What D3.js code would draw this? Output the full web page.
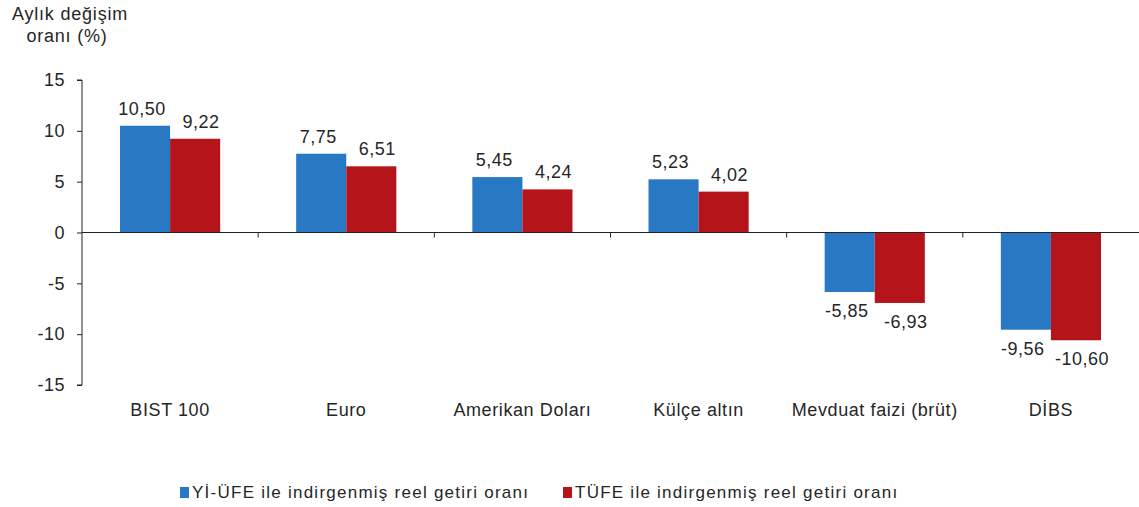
<!DOCTYPE html>
<html>
<head>
<meta charset="utf-8">
<title></title>
<script src="https://cdnjs.cloudflare.com/ajax/libs/d3/7.8.5/d3.min.js"></script>
<style>
    html, body { margin: 0; padding: 0; background: #fff; }
    svg text { font-family: "Liberation Sans", Arial, sans-serif; fill: #262626; }
</style>
</head>
<body>
<div id="vis"></div>
<script>
    // data
    var categories = ["BIST 100", "Euro", "Amerikan Doları", "Külçe altın", "Mevduat faizi (brüt)", "DİBS"];
    var seriesNames = ["Yİ-ÜFE ile indirgenmiş reel getiri oranı", "TÜFE ile indirgenmiş reel getiri oranı"];
    var yiufe = [10.50, 7.75, 5.45, 5.23, -5.85, -9.56];
    var tufe = [9.22, 6.51, 4.24, 4.02, -6.93, -10.60];
    var yTicks = [15, 10, 5, 0, -5, -10, -15];
    var colors = ["#2878c4", "#b5141b"];

    var width = 1139, height = 507;
    var svg = d3.select("#vis").append("svg")
        .attr("width", width)
        .attr("height", height);

    var x0 = d3.scaleBand().domain(categories).range([82, 1139]).paddingInner(0).paddingOuter(0);
    var x1 = d3.scaleBand().domain([0, 1]).range([38, x0.bandwidth() - 38]);
    var y = d3.scaleLinear().domain([-15, 15]).range([385, 80]);

    // title
    svg.append("text").attr("x", 70).attr("y", 20).attr("text-anchor", "middle")
        .style("font-size", "18px").style("letter-spacing", "0.8px").text("Aylık değişim");
    svg.append("text").attr("x", 67).attr("y", 42).attr("text-anchor", "middle")
        .style("font-size", "18px").style("letter-spacing", "0.8px").text("oranı (%)");

    // y axis
    var yAxis = d3.axisLeft(y).tickValues(yTicks).tickSize(5).tickPadding(12)
        .tickFormat(function(d) { return d < 0 ? "-" + Math.abs(d) : d; });
    var gy = svg.append("g").attr("transform", "translate(82,0)").call(yAxis);
    gy.select(".domain").attr("stroke", "#222").attr("d", "M-5," + y(15) + "H0V" + y(-15) + "H-5");
    gy.selectAll(".tick line").attr("stroke", "#222");
    gy.selectAll(".tick text").style("font-size", "18px").style("letter-spacing", "0.5px")
        .attr("fill", "#262626").attr("font-family", null);

    // bars
    var rows = categories.map(function(c, i) { return { cat: c, vals: [yiufe[i], tufe[i]] }; });
    var groups = svg.selectAll("g.cat").data(rows).enter().append("g")
        .attr("class", "cat")
        .attr("transform", function(d) { return "translate(" + x0(d.cat) + ",0)"; });

    groups.selectAll("rect").data(function(d) { return d.vals; }).enter().append("rect")
        .attr("x", function(d, i) { return x1(i); })
        .attr("width", x1.bandwidth())
        .attr("y", function(d) { return d >= 0 ? y(d) : y(0); })
        .attr("height", function(d) { return Math.abs(y(d) - y(0)); })
        .attr("fill", function(d, i) { return colors[i]; });

    var fmt = function(v) { return d3.format(".2f")(v).replace(".", ",").replace("\u2212", "-"); };
    groups.selectAll("text.val").data(function(d) { return d.vals; }).enter().append("text")
        .attr("class", "val")
        .attr("x", function(d, i) { return x1(i) + x1.bandwidth() / 2 + (i === 1 ? 6 : -3); })
        .attr("y", function(d) { return d >= 0 ? y(d) - 11 : y(d) + 25; })
        .attr("text-anchor", "middle")
        .style("font-size", "18px")
        .style("letter-spacing", "0.5px")
        .text(function(d) { return fmt(d); });

    // zero line + category ticks
    svg.append("line").attr("x1", 82).attr("x2", 1139).attr("y1", y(0)).attr("y2", y(0))
        .attr("stroke", "#222").attr("stroke-width", 1.2);
    svg.selectAll("line.ctick").data(categories.slice(1)).enter().append("line")
        .attr("class", "ctick")
        .attr("x1", function(d) { return x0(d); }).attr("x2", function(d) { return x0(d); })
        .attr("y1", y(0)).attr("y2", y(0) + 5).attr("stroke", "#222");

    // category labels
    svg.selectAll("text.cat").data(categories).enter().append("text")
        .attr("class", "cat")
        .attr("x", function(d) { return x0(d) + x0.bandwidth() / 2; })
        .attr("y", 416)
        .attr("text-anchor", "middle")
        .style("font-size", "18px")
        .style("letter-spacing", "0.6px")
        .text(function(d) { return d; });

    // legend
    var legendX = [180, 563];
    var lg = svg.selectAll("g.legend").data(seriesNames).enter().append("g")
        .attr("class", "legend")
        .attr("transform", function(d, i) { return "translate(" + legendX[i] + ",487)"; });
    lg.append("rect").attr("width", 9).attr("height", 11).attr("y", 0)
        .attr("fill", function(d, i) { return colors[i]; });
    lg.append("text").attr("x", 12).attr("y", 11)
        .style("font-size", "17px")
        .style("letter-spacing", "1.25px")
        .text(function(d) { return d; });
</script>
</body>
</html>
